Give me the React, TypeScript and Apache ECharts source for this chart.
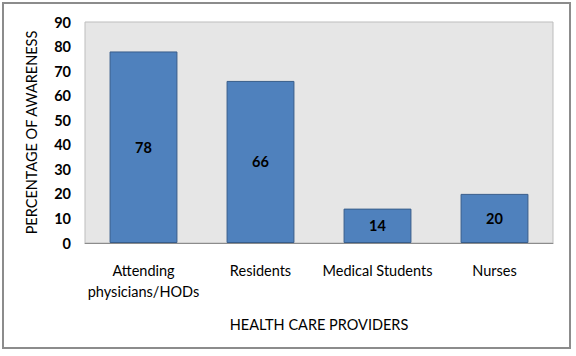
import React, { useEffect, useRef } from "react";
import * as echarts from "echarts";

const categories = ["Attending\nphysicians/HODs", "Residents", "Medical Students", "Nurses"];
const values = [78, 66, 14, 20];
const yTicks = [0, 10, 20, 30, 40, 50, 60, 70, 80, 90];

const FONT = "Lato, 'Open Sans', sans-serif";

export default function App() {
  const ref = useRef<HTMLDivElement>(null);
  useEffect(() => {
    const chart = echarts.init(ref.current!, null, { renderer: "svg" });
    chart.setOption({
      animation: false,
      backgroundColor: "#ffffff",
      graphic: [
        {
          type: "rect",
          shape: { x: 3, y: 3, width: 567, height: 345 },
          style: { fill: "none", stroke: "#8c8c8c", lineWidth: 2 },
          z: -1,
        },
      ],
      grid: {
        left: 85,
        right: 23,
        top: 22,
        bottom: 113,
        show: true,
        backgroundColor: "#e6e6e6",
        borderColor: "#bdbdbd",
        borderWidth: 1,
      },
      xAxis: {
        type: "category",
        data: categories,
        name: "HEALTH CARE PROVIDERS",
        nameLocation: "middle",
        nameGap: 74,
        nameTextStyle: { fontFamily: FONT, fontSize: 14.5, color: "#000" },
        axisLine: { lineStyle: { color: "#8c8c8c" } },
        axisTick: { show: false },
        axisLabel: {
          fontFamily: FONT,
          fontSize: 14.5,
          color: "#000",
          margin: 17,
          lineHeight: 21,
          interval: 0,
        },
      },
      yAxis: {
        type: "value",
        min: yTicks[0],
        max: yTicks[yTicks.length - 1],
        interval: 10,
        name: "PERCENTAGE OF AWARENESS",
        nameLocation: "middle",
        nameGap: 46,
        nameTextStyle: { fontFamily: FONT, fontSize: 14.5, color: "#000" },
        axisLine: { show: false },
        axisTick: { show: false },
        splitLine: { show: false },
        axisLabel: {
          fontFamily: FONT,
          fontSize: 14.5,
          fontWeight: "bold",
          color: "#000",
          margin: 14,
        },
      },
      series: [
        {
          type: "bar",
          data: values,
          barWidth: "58%",
          itemStyle: { color: "#4f81bd", borderColor: "#385d8a", borderWidth: 1 },
          label: {
            show: true,
            position: "inside",
            fontFamily: FONT,
            fontSize: 14.5,
            fontWeight: "bold",
            color: "#000",
          },
        },
      ],
    });
    return () => chart.dispose();
  }, []);
  return (
    <div
      ref={ref}
      style={{ position: "absolute", left: 0, top: 0, width: 576, height: 356 }}
    />
  );
}
